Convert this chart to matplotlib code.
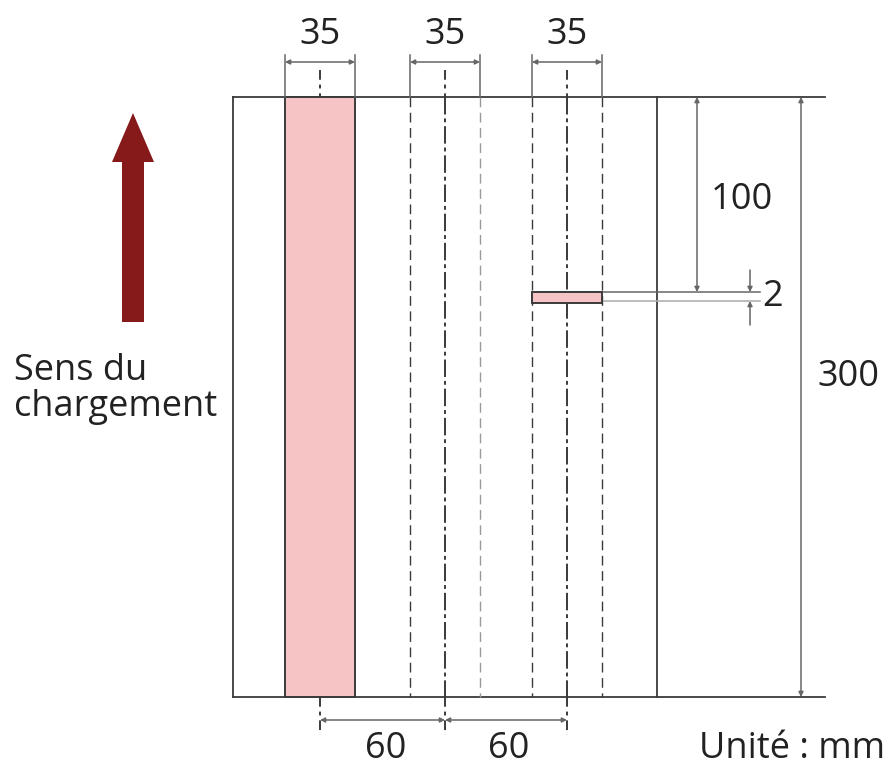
import numpy as np
import matplotlib.pyplot as plt
from matplotlib.patches import Rectangle, FancyArrow

plt.rcParams['font.family'] = ['Open Sans', 'DejaVu Sans']

# dimensions du schéma (mm, origine = coin haut gauche de la feuille)
page_w = 212
page_h = 300
strip_centers = [43.5, 106, 167]
strip_w = 35
strip_labels = ["35", "35", "35"]
gap_labels = ["60", "60"]
tape_top = 97.5      # tracé (non à l'échelle)
tape_h = 5.5
dim_labels = {"top": "100", "tape": "2", "page": "300"}

pink = '#f7c4c5'
dark = '#3a3a3a'
grey = '#666666'
red = '#861a1b'

fig = plt.figure(figsize=(8.89, 7.76), dpi=100)
ax = fig.add_axes([0, 0, 1, 1])
ax.set_xlim(-116.5, 328)
ax.set_ylim(339.5, -48.5)
ax.axis('off')

fs = 26

# feuille
ax.plot([0, 0], [0, page_h], color=dark, lw=1.3)
ax.plot([page_w, page_w], [0, page_h], color=dark, lw=1.3)
ax.plot([0, 296], [0, 0], color=dark, lw=1.3)
ax.plot([0, 296], [page_h, page_h], color=dark, lw=1.3)

def dim(x0, y0, x1, y1):
    ax.annotate('', xy=(x1, y1), xytext=(x0, y0),
                arrowprops=dict(arrowstyle='<|-|>', color=grey, lw=1.1,
                                mutation_scale=7, shrinkA=0, shrinkB=0))

# bandes
for i, c in enumerate(strip_centers):
    l, r = c - strip_w / 2, c + strip_w / 2
    if i == 0:
        ax.add_patch(Rectangle((l, 0), strip_w, page_h, fc=pink, ec=dark, lw=1.4, zorder=2))
    else:
        ax.plot([l, l], [0, page_h], color=dark, lw=1.0, ls=(0, (7, 4)))
        ax.plot([r, r], [0, page_h], color=dark if i == 2 else '#9a9a9a', lw=1.0, ls=(0, (7, 4)))
        ax.plot([c, c], [0, page_h], color=dark, lw=1.4, ls=(0, (9, 2, 2, 2)))
    # cotes du haut
    ax.plot([l, l], [-21, 0], color=grey, lw=1.1)
    ax.plot([r, r], [-21, 0], color=grey, lw=1.1)
    ax.plot([c, c], [-13.5, 0], color=dark, lw=1.4, ls=(0, (5, 2.5, 2, 2.5)))
    dim(l, -17.5, r, -17.5)
    ax.text(c, -31, strip_labels[i], fontsize=fs, ha='center', va='center', color='#222222')
    # lignes d'axe en bas
    ax.plot([c, c], [page_h, 319], color=dark, lw=1.4, ls=(0, (5, 2.5, 2, 2.5)))

# cotes 60
for k in range(2):
    a, b = strip_centers[k], strip_centers[k + 1]
    dim(a, 311.5, b, 311.5)
    ax.text((a + b) / 2 + 1.5, 326, gap_labels[k], fontsize=fs, ha='center', va='center', color='#222222')

# ruban
tl = strip_centers[2] - strip_w / 2
ax.add_patch(Rectangle((tl, tape_top), strip_w, tape_h, fc=pink, ec=dark, lw=1.4, zorder=3))
ax.plot([tl + strip_w, 263.5], [tape_top, tape_top], color=grey, lw=1.1)
ax.plot([tl + strip_w, 263.5], [tape_top + tape_h - 1, tape_top + tape_h - 1], color='#aaaaaa', lw=1.1)

# cote 100
dim(232, 0, 232, tape_top)
ax.text(254.5, 51.5, dim_labels["top"], fontsize=fs, ha='center', va='center', color='#222222')

# cote 2
ax.annotate('', xy=(258.5, tape_top), xytext=(258.5, tape_top - 11),
            arrowprops=dict(arrowstyle='-|>', color=grey, lw=1.1, mutation_scale=7, shrinkA=0, shrinkB=0))
ax.annotate('', xy=(258.5, tape_top + tape_h - 1), xytext=(258.5, tape_top + tape_h + 11),
            arrowprops=dict(arrowstyle='-|>', color=grey, lw=1.1, mutation_scale=7, shrinkA=0, shrinkB=0))
ax.text(270, 100, dim_labels["tape"], fontsize=fs, ha='center', va='center', color='#222222')

# cote 300
dim(284, 0, 284, page_h)
ax.text(307.5, 140, dim_labels["page"], fontsize=fs, ha='center', va='center', color='#222222')

# flèche sens du chargement
ax.add_patch(FancyArrow(-50, 112.5, 0, -104.5, width=11, head_width=21, head_length=24.5,
                        length_includes_head=True, color=red, lw=0))
ax.text(-109.5, 146, "Sens du\nchargement", fontsize=fs, ha='left', va='center',
        linespacing=1.0, color='#222222')

ax.text(326, 326, "Unité : mm", fontsize=fs, ha='right', va='center', color='#222222')

fig.savefig('out.png', dpi=100)
